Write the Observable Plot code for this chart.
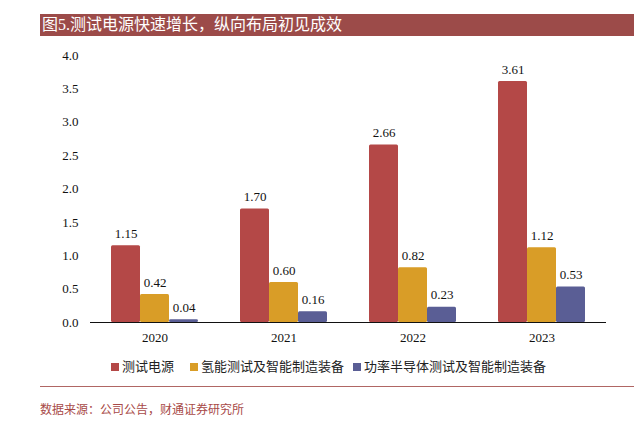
<!DOCTYPE html>
<html><head><meta charset="utf-8">
<script src="https://cdn.jsdelivr.net/npm/d3@7"></script>
<script src="https://cdn.jsdelivr.net/npm/@observablehq/plot@0.6"></script>
<style>
body{margin:0;background:#fff;width:640px;height:422px;position:relative;overflow:hidden;font-family:"Liberation Serif","Noto Sans CJK SC",serif;}
#title{position:absolute;left:40px;top:14px;width:594px;height:22px;background:#9c4b49;color:#fff;font-size:16px;line-height:22px;padding-left:2px;box-sizing:border-box;font-family:"Liberation Serif","Noto Sans CJK SC",serif;}
#chart{position:absolute;left:0;top:40px;}
#legend{position:absolute;top:356px;left:0;width:640px;font-size:13px;color:#222;}
#legend span.item{position:absolute;white-space:nowrap;}
#legend i{display:inline-block;width:8px;height:8px;margin-right:3px;vertical-align:0px;}
#rule{position:absolute;left:40px;top:386px;width:594px;height:1px;background:#b06664;}
#source{position:absolute;left:40px;top:400px;font-size:12px;color:#a84a48;}
</style></head>
<body>
<div id="title">图5.测试电源快速增长，纵向布局初见成效</div>
<div id="chart"></div>
<div id="legend"></div>
<div id="rule"></div>
<div id="source">数据来源：公司公告，财通证券研究所</div>
<script>
const years = ["2020","2021","2022","2023"];
const seriesNames = ["测试电源","氢能测试及智能制造装备","功率半导体测试及智能制造装备"];
const powerTest = [1.15,1.70,2.66,3.61];
const hydrogen = [0.42,0.60,0.82,1.12];
const semiconductor = [0.04,0.16,0.23,0.53];
const colors = ["#b44847","#d99d27","#5a5e95"];
const yTicks = [0,0.5,1.0,1.5,2.0,2.5,3.0,3.5,4.0];

const allSeries = [powerTest, hydrogen, semiconductor];
const data = [];
years.forEach((y,i)=>seriesNames.forEach((s,j)=>data.push({year:y, series:s, value:allSeries[j][i]})));

const chart = Plot.plot({
  width:640, height:315,
  marginTop:15, marginBottom:33, marginLeft:88, marginRight:33,
  style:{fontFamily:"Liberation Serif, serif", fontSize:"13px", color:"#111", background:"transparent"},
  fx:{domain:years, padding:0, label:null, tickSize:0, tickPadding:10, axis:"bottom"},
  x:{domain:seriesNames, axis:null, paddingInner:0, paddingOuter:0.69},
  y:{domain:[0,4], ticks:yTicks, tickFormat:d=>d.toFixed(1), tickSize:0, tickPadding:12, label:null},
  color:{domain:seriesNames, range:colors},
  marks:[
    Plot.barY(data,{fx:"year", x:"series", y:"value", fill:"series", rx:1.5}),
    Plot.text(data,{fx:"year", x:"series", y:"value", text:d=>d.value.toFixed(2), dy:-12, fontSize:13, fill:"#111"}),
    Plot.ruleY([0],{stroke:"#111", strokeWidth:1})
  ]
});
document.getElementById("chart").appendChild(chart);

const leg = document.getElementById("legend");
const lx = [111,190,353];
seriesNames.forEach((s,i)=>{
  const sp=document.createElement("span");
  sp.className="item";
  sp.style.left=lx[i]+"px";
  sp.innerHTML=`<i style="background:${colors[i]}"></i>${s}`;
  leg.appendChild(sp);
});
</script>
</body></html>
